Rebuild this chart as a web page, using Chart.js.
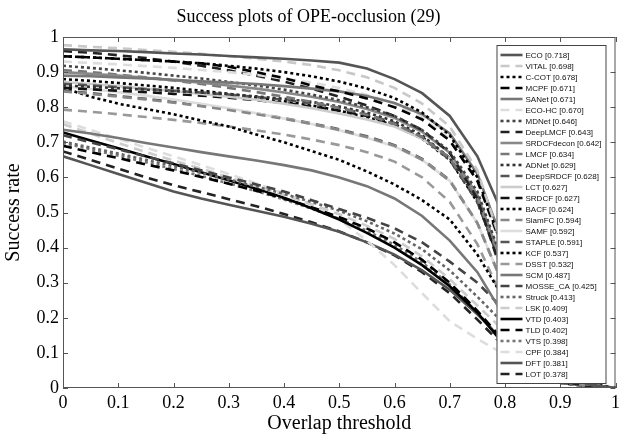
<!DOCTYPE html>
<html><head><meta charset="utf-8">
<script src="https://cdn.jsdelivr.net/npm/chart.js@4.4.1/dist/chart.umd.min.js"></script>
<style>html,body{margin:0;padding:0;background:#fff}#wrap{width:624px;height:439px;position:relative}</style>
</head><body><div id="wrap"><canvas id="c"></canvas></div>
<script>
const chartTitle = 'Success plots of OPE-occlusion (29)';
const xAxisTitle = 'Overlap threshold';
const yAxisTitle = 'Success rate';
const xTickLabels = ['0','0.1','0.2','0.3','0.4','0.5','0.6','0.7','0.8','0.9','1'];
const yTickLabels = ['0','0.1','0.2','0.3','0.4','0.5','0.6','0.7','0.8','0.9','1'];
const thresholds = [0,0.05,0.1,0.15,0.2,0.25,0.3,0.35,0.4,0.45,0.5,0.55,0.6,0.65,0.7,0.75,0.8,0.85,0.9,0.95,1];

const trackerNames = ['ECO','VITAL','C-COT','MCPF','SANet','ECO-HC','MDNet','DeepLMCF','SRDCFdecon','LMCF','ADNet','DeepSRDCF','LCT','SRDCF','BACF','SiamFC','SAMF','STAPLE','KCF','DSST','SCM','MOSSE_CA','Struck','LSK','VTD','TLD','VTS','CPF','DFT','LOT'];
const aucScores = [0.718,0.698,0.678,0.671,0.671,0.670,0.646,0.643,0.642,0.634,0.629,0.628,0.627,0.627,0.624,0.594,0.592,0.591,0.537,0.532,0.487,0.425,0.413,0.409,0.403,0.402,0.398,0.384,0.381,0.378];

const ecoRates        = [0.965,0.962,0.96,0.957,0.953,0.95,0.946,0.942,0.938,0.933,0.927,0.91,0.88,0.84,0.775,0.66,0.48,0.18,0.04,0.01,0];
const vitalRates      = [0.977,0.972,0.968,0.963,0.958,0.952,0.945,0.938,0.93,0.92,0.905,0.885,0.855,0.81,0.745,0.62,0.38,0.1,0.03,0.01,0];
const ccotRates       = [0.945,0.942,0.938,0.934,0.93,0.925,0.918,0.91,0.9,0.888,0.873,0.853,0.826,0.785,0.72,0.6,0.38,0.12,0.03,0.01,0];
const mcpfRates       = [0.945,0.942,0.938,0.934,0.93,0.925,0.915,0.9,0.883,0.862,0.845,0.825,0.8,0.765,0.705,0.59,0.38,0.12,0.03,0.01,0];
const sanetRates      = [0.89,0.888,0.885,0.882,0.878,0.874,0.87,0.866,0.86,0.853,0.845,0.832,0.812,0.78,0.725,0.61,0.4,0.13,0.03,0.01,0];
const ecohcRates      = [0.93,0.926,0.922,0.917,0.912,0.906,0.9,0.892,0.882,0.87,0.855,0.835,0.81,0.77,0.71,0.59,0.37,0.11,0.03,0.01,0];
const mdnetRates      = [0.918,0.912,0.905,0.898,0.89,0.882,0.872,0.862,0.85,0.836,0.82,0.8,0.775,0.735,0.675,0.56,0.34,0.1,0.03,0.01,0];
const deeplmcfRates   = [0.96,0.955,0.948,0.94,0.93,0.918,0.905,0.89,0.873,0.853,0.83,0.805,0.775,0.735,0.67,0.54,0.3,0.08,0.02,0.005,0];
const srdcfdeconRates = [0.9,0.895,0.89,0.884,0.877,0.87,0.862,0.853,0.842,0.83,0.815,0.795,0.77,0.73,0.67,0.55,0.33,0.1,0.025,0.005,0];
const lmcfRates       = [0.906,0.9,0.893,0.885,0.876,0.866,0.855,0.843,0.83,0.815,0.798,0.778,0.752,0.715,0.655,0.54,0.33,0.1,0.025,0.005,0];
const adnetRates      = [0.862,0.858,0.854,0.85,0.846,0.842,0.837,0.831,0.824,0.815,0.802,0.785,0.76,0.72,0.655,0.535,0.32,0.1,0.025,0.005,0];
const deepsrdcfRates  = [0.867,0.862,0.857,0.852,0.847,0.842,0.836,0.829,0.821,0.811,0.798,0.78,0.755,0.715,0.65,0.53,0.32,0.1,0.025,0.005,0];
const lctRates        = [0.872,0.866,0.86,0.853,0.846,0.838,0.83,0.821,0.81,0.797,0.782,0.765,0.745,0.71,0.655,0.545,0.34,0.1,0.025,0.005,0];
const srdcfRates      = [0.855,0.851,0.847,0.843,0.838,0.833,0.827,0.82,0.812,0.802,0.79,0.775,0.752,0.715,0.655,0.54,0.33,0.1,0.025,0.005,0];
const bacfRates       = [0.88,0.875,0.869,0.862,0.855,0.847,0.838,0.828,0.817,0.805,0.79,0.772,0.748,0.71,0.65,0.53,0.32,0.09,0.02,0.005,0];
const siamfcRates     = [0.845,0.838,0.83,0.822,0.813,0.803,0.792,0.78,0.767,0.752,0.735,0.715,0.69,0.65,0.59,0.47,0.28,0.08,0.02,0.005,0];
const samfRates       = [0.86,0.852,0.843,0.833,0.822,0.81,0.797,0.783,0.768,0.752,0.734,0.713,0.688,0.65,0.59,0.47,0.28,0.08,0.02,0.005,0];
const stapleRates     = [0.847,0.84,0.832,0.824,0.815,0.805,0.794,0.782,0.769,0.754,0.737,0.717,0.692,0.653,0.592,0.47,0.28,0.08,0.02,0.005,0];
const kcfRates        = [0.855,0.83,0.81,0.795,0.78,0.762,0.745,0.722,0.7,0.675,0.65,0.617,0.58,0.535,0.48,0.38,0.25,0.12,0.05,0.015,0];
const dsstRates       = [0.793,0.787,0.78,0.772,0.764,0.755,0.745,0.734,0.722,0.708,0.692,0.672,0.645,0.6,0.53,0.41,0.24,0.07,0.015,0.005,0];
const scmRates        = [0.736,0.725,0.712,0.698,0.685,0.672,0.66,0.648,0.635,0.62,0.6,0.575,0.54,0.49,0.42,0.33,0.2,0.07,0.02,0.005,0];
const mosseRates      = [0.72,0.7,0.68,0.66,0.64,0.62,0.6,0.58,0.56,0.535,0.51,0.485,0.455,0.415,0.36,0.3,0.22,0.08,0.02,0.005,0];
const struckRates     = [0.702,0.685,0.668,0.65,0.632,0.613,0.594,0.574,0.553,0.53,0.505,0.475,0.44,0.395,0.335,0.26,0.18,0.06,0.015,0.005,0];
const lskRates        = [0.752,0.725,0.698,0.672,0.648,0.625,0.6,0.575,0.55,0.523,0.495,0.462,0.425,0.375,0.31,0.235,0.16,0.06,0.015,0.005,0];
const vtdRates        = [0.728,0.705,0.683,0.66,0.638,0.615,0.592,0.568,0.542,0.512,0.48,0.442,0.4,0.35,0.29,0.215,0.12,0.05,0.015,0.005,0];
const tldRates        = [0.69,0.672,0.655,0.637,0.62,0.601,0.582,0.562,0.54,0.515,0.487,0.455,0.415,0.365,0.3,0.22,0.13,0.05,0.015,0.005,0];
const vtsRates        = [0.698,0.68,0.662,0.643,0.624,0.604,0.583,0.561,0.537,0.511,0.482,0.448,0.408,0.358,0.295,0.215,0.125,0.05,0.015,0.005,0];
const cpfRates        = [0.76,0.735,0.71,0.685,0.66,0.635,0.61,0.583,0.555,0.523,0.48,0.42,0.35,0.27,0.19,0.14,0.095,0.05,0.02,0.005,0];
const dftRates        = [0.66,0.635,0.61,0.585,0.56,0.54,0.522,0.505,0.488,0.468,0.445,0.415,0.38,0.335,0.28,0.21,0.13,0.05,0.015,0.005,0];
const lotRates        = [0.674,0.65,0.625,0.6,0.578,0.558,0.538,0.518,0.496,0.472,0.446,0.415,0.378,0.33,0.27,0.195,0.115,0.045,0.015,0.005,0];

const seriesRates = [ecoRates,vitalRates,ccotRates,mcpfRates,sanetRates,ecohcRates,mdnetRates,deeplmcfRates,srdcfdeconRates,lmcfRates,adnetRates,deepsrdcfRates,lctRates,srdcfRates,bacfRates,siamfcRates,samfRates,stapleRates,kcfRates,dsstRates,scmRates,mosseRates,struckRates,lskRates,vtdRates,tldRates,vtsRates,cpfRates,dftRates,lotRates];

// styles (kept separate from data)
const DOT = [3,3], DASH = [9,6], SOLID = [];
const lineStyles = [
  ['#555555',SOLID],['#c8c8c8',DASH],['#000000',DOT],['#000000',DASH],['#777777',SOLID],
  ['#dddddd',DASH],['#444444',DOT],['#222222',DASH],['#888888',SOLID],['#777777',DASH],
  ['#333333',DOT],['#555555',DASH],['#cccccc',SOLID],['#111111',DASH],['#000000',DOT],
  ['#888888',DASH],['#dddddd',SOLID],['#555555',DASH],['#000000',DOT],['#999999',DASH],
  ['#777777',SOLID],['#444444',DASH],['#666666',DOT],['#cccccc',DASH],['#000000',SOLID],
  ['#000000',DASH],['#777777',DOT],['#dddddd',DASH],['#555555',SOLID],['#222222',DASH]
];

const serif = "'Liberation Serif','Times New Roman',serif";
const sans = "'Liberation Sans',Arial,sans-serif";

const datasets = seriesRates.map((rates, i) => ({
  label: trackerNames[i] + ' [' + aucScores[i].toFixed(3) + ']',
  data: rates.map((r, j) => ({x: thresholds[j], y: r})),
  borderColor: lineStyles[i][0],
  borderDash: lineStyles[i][1],
  borderWidth: 2.6,
  pointRadius: 0,
  tension: 0,
  fill: false
}));

const framePlugin = {
  id: 'frameAndLegend',
  afterDraw(chart) {
    const ctx = chart.ctx, a = chart.chartArea;
    const xs = chart.scales.x, ys = chart.scales.y;
    ctx.save();
    ctx.strokeStyle = '#555';
    ctx.lineWidth = 1;
    ctx.setLineDash([]);
    ctx.strokeRect(a.left + 0.5, a.top + 0.5, a.right - a.left - 1, a.bottom - a.top - 1);
    const tl = 5;
    ctx.beginPath();
    xs.ticks.forEach(t => {
      const px = Math.round(xs.getPixelForValue(t.value)) + 0.5;
      ctx.moveTo(px, a.bottom); ctx.lineTo(px, a.bottom - tl);
      ctx.moveTo(px, a.top); ctx.lineTo(px, a.top + tl);
    });
    ys.ticks.forEach(t => {
      const py = Math.round(ys.getPixelForValue(t.value)) + 0.5;
      ctx.moveTo(a.left, py); ctx.lineTo(a.left + tl, py);
      ctx.moveTo(a.right, py); ctx.lineTo(a.right - tl, py);
    });
    ctx.stroke();

    // legend box
    const n = chart.data.datasets.length;
    const rowH = 11;
    const x0 = a.right - 119, y0 = a.top + 8, w = 109, h = rowH * n + 8;
    ctx.fillStyle = '#fff';
    ctx.fillRect(x0, y0, w, h);
    ctx.strokeStyle = '#444';
    ctx.lineWidth = 1;
    ctx.strokeRect(x0 + 0.5, y0 + 0.5, w, h);
    ctx.font = '8px ' + sans;
    ctx.textBaseline = 'middle';
    ctx.textAlign = 'left';
    chart.data.datasets.forEach((ds, i) => {
      const cy = y0 + 10 + i * rowH;
      ctx.beginPath();
      ctx.strokeStyle = ds.borderColor;
      ctx.lineWidth = 2.6;
      ctx.setLineDash(ds.borderDash);
      ctx.moveTo(x0 + 4, cy); ctx.lineTo(x0 + 26, cy);
      ctx.stroke();
      ctx.setLineDash([]);
      ctx.fillStyle = '#111';
      ctx.fillText(ds.label, x0 + 29, cy + 0.5);
    });
    ctx.restore();
  }
};

new Chart(document.getElementById('c'), {
  type: 'line',
  data: { datasets },
  options: {
    responsive: true,
    maintainAspectRatio: false,
    animation: false,
    layout: { padding: { left: 0, right: 7, top: 0, bottom: 0 } },
    plugins: {
      legend: { display: false },
      tooltip: { enabled: false },
      title: {
        display: true, text: chartTitle, color: '#000',
        font: { family: serif, size: 18, weight: 'normal' },
        padding: { top: 6, bottom: 9.4 }
      }
    },
    scales: {
      x: {
        type: 'linear', min: 0, max: 1,
        grid: { display: false, drawTicks: false },
        border: { display: false },
        ticks: { stepSize: 0.1, autoSkip: false, maxRotation: 0, padding: 4, color: '#000',
                 font: { family: serif, size: 18 },
                 callback: (v, i) => xTickLabels[i] },
        title: { display: true, text: xAxisTitle, color: '#000',
                 font: { family: serif, size: 20 }, padding: { top: 0, bottom: 3 } },
        afterFit: s => { s.height = 51; }
      },
      y: {
        type: 'linear', min: 0, max: 1,
        grid: { display: false, drawTicks: false },
        border: { display: false },
        ticks: { stepSize: 0.1, autoSkip: false, padding: 4, color: '#000',
                 font: { family: serif, size: 18 },
                 callback: (v, i) => yTickLabels[i] },
        title: { display: true, text: yAxisTitle, color: '#000',
                 font: { family: serif, size: 20 }, padding: { top: 2, bottom: 0 } },
        afterFit: s => { s.width = 63; }
      }
    }
  },
  plugins: [framePlugin]
});
</script>
</body></html>
